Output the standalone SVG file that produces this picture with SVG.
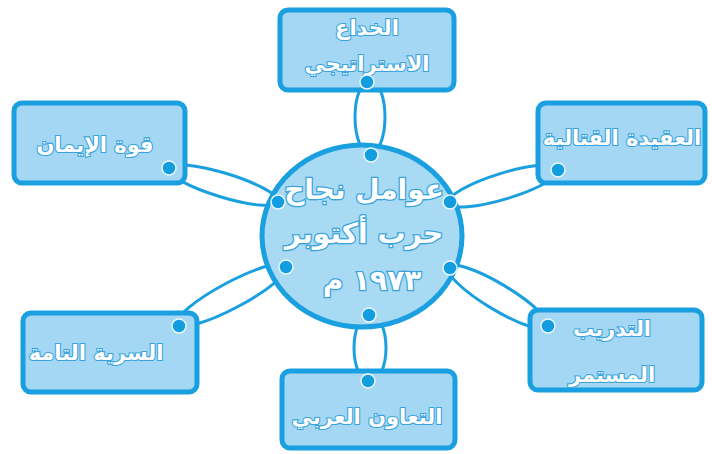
<svg xmlns="http://www.w3.org/2000/svg" width="712" height="454" viewBox="0 0 712 454">
<style>
.box{fill:#a3d7f3;stroke:#1a9fe0;stroke-width:5}
.hub{fill:#a8daf3;stroke:#1a9fe0;stroke-width:5}
.ring{fill:none;stroke:#1a9fe0;stroke-width:3}
.dot{fill:#129de0;stroke:#eaf7fd;stroke-width:1.5}
.t{font-family:"DejaVu Sans",sans-serif;font-weight:bold;font-size:21px;fill:#ffffff;stroke:#3aa3dc;stroke-width:2.2;paint-order:stroke;text-anchor:middle;direction:rtl}
.h{font-size:28px;stroke-width:2.6}
</style>
<rect width="712" height="454" fill="#ffffff"/>
<g id="connectors">
<ellipse class="ring" cx="370" cy="117" rx="15" ry="37"/>
<ellipse class="ring" cx="223" cy="185" rx="58" ry="12" transform="rotate(17 223 185)"/>
<ellipse class="ring" cx="504" cy="186" rx="58" ry="13" transform="rotate(-17 504 186)"/>
<ellipse class="ring" cx="232" cy="295" rx="62" ry="13" transform="rotate(-28 232 295)"/>
<ellipse class="ring" cx="498" cy="297" rx="58" ry="13" transform="rotate(31 498 297)"/>
<ellipse class="ring" cx="370" cy="348" rx="16" ry="34"/>
</g>
<g id="hub">
<ellipse class="hub" cx="362" cy="236" rx="100" ry="91"/>
<text class="t h" x="364" y="199">عوامل نجاح</text>
<text class="t h" x="364" y="243">حرب أكتوبر</text>
<text class="t h" x="372" y="290">١٩٧٣ م</text>
<circle class="dot" cx="371" cy="155" r="7"/>
<circle class="dot" cx="278" cy="202" r="7"/>
<circle class="dot" cx="450" cy="202" r="7"/>
<circle class="dot" cx="286" cy="267" r="7"/>
<circle class="dot" cx="450" cy="268" r="7"/>
<circle class="dot" cx="369" cy="315" r="7"/>
</g>
<g id="n-top">
<rect class="box" x="280" y="10" width="174" height="80" rx="8"/>
<text class="t" x="367" y="35">الخداع</text>
<text class="t" x="367" y="71">الاستراتيجي</text>
<circle class="dot" cx="367" cy="82" r="7"/>
</g>
<g id="n-topleft">
<rect class="box" x="14" y="103" width="171" height="80" rx="8"/>
<text class="t" x="95" y="152">قوة الإيمان</text>
<circle class="dot" cx="169" cy="168" r="7"/>
</g>
<g id="n-topright">
<rect class="box" x="538" y="103" width="167" height="80" rx="8"/>
<text class="t" x="622" y="145">العقيدة القتالية</text>
<circle class="dot" cx="558" cy="170" r="7"/>
</g>
<g id="n-bottomleft">
<rect class="box" x="23" y="313" width="174" height="79" rx="8"/>
<text class="t" x="96" y="360">السرية التامة</text>
<circle class="dot" cx="179" cy="326" r="7"/>
</g>
<g id="n-bottomright">
<rect class="box" x="530" y="310" width="172" height="80" rx="8"/>
<text class="t" x="612" y="336">التدريب</text>
<text class="t" x="612" y="382">المستمر</text>
<circle class="dot" cx="548" cy="326" r="7"/>
</g>
<g id="n-bottom">
<rect class="box" x="282" y="371" width="173" height="77" rx="8"/>
<text class="t" x="367" y="424">التعاون العربي</text>
<circle class="dot" cx="368" cy="381" r="7"/>
</g>
</svg>
